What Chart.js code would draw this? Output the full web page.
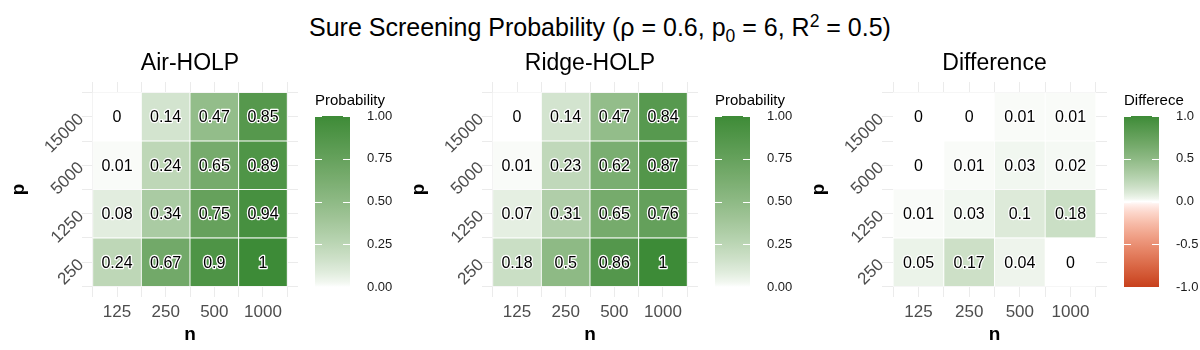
<!DOCTYPE html>
<html>
<head>
<meta charset="utf-8">
<script src="https://cdn.jsdelivr.net/npm/chart.js@4.4.1/dist/chart.umd.min.js"></script>
<style>
  body { margin: 0; background: #fff; width: 1200px; height: 350px; position: relative; overflow: hidden;
         font-family: "Liberation Sans", Arial, sans-serif; }
  canvas { position: absolute; top: 0; }
  #title { position: absolute; top: 12px; left: 0; width: 1200px; text-align: center;
           font-size: 25px; line-height: 30px; color: #000; }
  #title sub, #title sup { font-size: 70%; line-height: 0; }
</style>
</head>
<body>
<div id="title">Sure Screening Probability (ρ = 0.6, p<sub>0</sub> = 6, R<sup>2</sup> = 0.5)</div>
<canvas id="heat1" width="300" height="350" style="left:0px"></canvas>
<canvas id="leg1" width="100" height="350" style="left:300px"></canvas>
<canvas id="heat2" width="300" height="350" style="left:400px"></canvas>
<canvas id="leg2" width="100" height="350" style="left:700px"></canvas>
<canvas id="heat3" width="310" height="350" style="left:800px"></canvas>
<canvas id="leg3" width="100" height="350" style="left:1100px"></canvas>
<script>
// values, rows from bottom (p = 250) to top (p = 15000)
const nLabels = ['125', '250', '500', '1000'];
const pLabels = ['250', '1250', '5000', '15000'];

const airHolp = [
    [0.24, 0.67, 0.9, 1],
    [0.08, 0.34, 0.75, 0.94],
    [0.01, 0.24, 0.65, 0.89],
    [0, 0.14, 0.47, 0.85]
];
const ridgeHolp = [
    [0.18, 0.5, 0.86, 1],
    [0.07, 0.31, 0.65, 0.76],
    [0.01, 0.23, 0.62, 0.87],
    [0, 0.14, 0.47, 0.84]
];
const difference = [
    [0.05, 0.17, 0.04, 0],
    [0.01, 0.03, 0.1, 0.18],
    [0, 0.01, 0.03, 0.02],
    [0, 0, 0.01, 0.01]
];

const probTicks = [0, 0.25, 0.5, 0.75, 1];
const diffTicks = [-1, -0.5, 0, 0.5, 1];

const GREEN = '#3d8b37';
const RED = '#c8401c';
const GRID = '#ebebeb';
const FONT = '"Liberation Sans", Arial, sans-serif';

// colour ramps in Lab space
function hexToRgb(h) {
    return [1, 3, 5].map(i => parseInt(h.substr(i, 2), 16));
}
function toLab(hex) {
    const lin = hexToRgb(hex).map(c => {
        c /= 255;
        return c <= 0.04045 ? c / 12.92 : Math.pow((c + 0.055) / 1.055, 2.4);
    });
    const X = (0.4124 * lin[0] + 0.3576 * lin[1] + 0.1805 * lin[2]) / 0.95047;
    const Y = 0.2126 * lin[0] + 0.7152 * lin[1] + 0.0722 * lin[2];
    const Z = (0.0193 * lin[0] + 0.1192 * lin[1] + 0.9505 * lin[2]) / 1.08883;
    const f = t => t > 0.008856 ? Math.cbrt(t) : 7.787 * t + 16 / 116;
    return [116 * f(Y) - 16, 500 * (f(X) - f(Y)), 200 * (f(Y) - f(Z))];
}
function fromLab(lab) {
    const fy = (lab[0] + 16) / 116, fx = fy + lab[1] / 500, fz = fy - lab[2] / 200;
    const inv = t => t > 0.206893 ? t * t * t : (t - 16 / 116) / 7.787;
    const X = inv(fx) * 0.95047, Y = inv(fy), Z = inv(fz) * 1.08883;
    const lin = [
        3.2406 * X - 1.5372 * Y - 0.4986 * Z,
        -0.9689 * X + 1.8758 * Y + 0.0415 * Z,
        0.0557 * X - 0.2040 * Y + 1.0570 * Z
    ];
    const rgb = lin.map(c => {
        const v = c <= 0.0031308 ? 12.92 * c : 1.055 * Math.pow(c, 1 / 2.4) - 0.055;
        return Math.round(Math.max(0, Math.min(1, v)) * 255);
    });
    return 'rgb(' + rgb.join(',') + ')';
}
const labWhite = toLab('#ffffff');
const labGreen = toLab(GREEN);
const labRed = toLab(RED);
// the ramp in the picture darkens quickly near zero
function ramp(t) {
    return Math.pow(t, 0.75);
}
function mixLab(a, b, t) {
    return fromLab(a.map((v, i) => v + (b[i] - v) * ramp(t)));
}
function probColor(v) {
    return mixLab(labWhite, labGreen, v);
}
function diffColor(v) {
    return v >= 0 ? mixLab(labWhite, labGreen, v) : mixLab(labWhite, labRed, -v);
}

const halfSteps = [0.5, 1, 1.5, 2, 2.5, 3, 3.5, 4, 4.5];

// cell labels, rotated p labels, axis title p and panel title
const heatPlugin = {
    id: 'heatText',
    afterDatasetsDraw(chart) {
        const ctx = chart.ctx;
        ctx.save();
        ctx.font = '16px ' + FONT;
        ctx.textAlign = 'center';
        ctx.textBaseline = 'middle';
        ctx.lineJoin = 'round';
        chart.data.datasets.forEach((ds, di) => {
            chart.getDatasetMeta(di).data.forEach((bar, i) => {
                const txt = String(ds.data[i].v);
                const cy = (bar.y + bar.base) / 2;
                ctx.strokeStyle = '#fff';
                ctx.lineWidth = 2.5;
                ctx.strokeText(txt, bar.x, cy + 1);
                ctx.fillStyle = '#000';
                ctx.fillText(txt, bar.x, cy + 1);
            });
        });
        ctx.restore();
    },
    afterDraw(chart) {
        const ctx = chart.ctx;
        const area = chart.chartArea;
        const yScale = chart.scales.y;
        ctx.save();
        ctx.fillStyle = '#4d4d4d';
        ctx.font = '17px ' + FONT;
        ctx.textAlign = 'right';
        ctx.textBaseline = 'middle';
        pLabels.forEach((lab, r) => {
            ctx.save();
            ctx.translate(area.left - 1, yScale.getPixelForValue(r + 1));
            ctx.rotate(-Math.PI / 4);
            ctx.fillText(lab, 0, 0);
            ctx.restore();
        });
        ctx.fillStyle = '#000';
        ctx.font = 'bold 19px ' + FONT;
        ctx.textAlign = 'center';
        ctx.save();
        ctx.translate(19, (area.top + area.bottom) / 2);
        ctx.rotate(-Math.PI / 2);
        ctx.fillText('p', 0, 0);
        ctx.restore();
        ctx.font = '23px ' + FONT;
        ctx.fillText(chart.options.plugins.panelTitle, (area.left + area.right) / 2, 64);
        ctx.restore();
    }
};

function makeHeat(id, rows, colorFn, title, padRight) {
    const datasets = rows.map((row, r) => ({
        data: row.map((v, i) => ({ x: i + 1, y: [r + 0.5, r + 1.5], v: v })),
        backgroundColor: row.map(colorFn),
        borderColor: '#ffffff',
        borderWidth: 0.8,
        borderSkipped: false,
        grouped: false,
        categoryPercentage: 1,
        barPercentage: 1
    }));
    return new Chart(document.getElementById(id), {
        type: 'bar',
        data: { datasets: datasets },
        options: {
            responsive: false,
            animation: false,
            devicePixelRatio: 1,
            layout: { padding: { left: 82, right: padRight, top: 82, bottom: 0 } },
            plugins: { legend: { display: false }, tooltip: { enabled: false }, panelTitle: title },
            scales: {
                x: {
                    type: 'linear', min: 0.28, max: 4.72, offset: false,
                    afterBuildTicks: s => { s.ticks = [1, 2, 3, 4].map(v => ({ value: v })); },
                    afterFit: s => { s.height = 53; },
                    ticks: {
                        autoSkip: false, maxRotation: 0, padding: 5, color: '#4d4d4d',
                        font: { family: FONT, size: 17 },
                        callback: v => nLabels[v - 1] || ''
                    },
                    grid: { color: GRID, drawTicks: false, offset: false },
                    border: { display: false },
                    title: { display: true, text: 'n', color: '#000', padding: { top: 0, bottom: 4 },
                             font: { family: FONT, size: 19, weight: 'bold' } }
                },
                x2: {
                    type: 'linear', position: 'bottom', min: 0.28, max: 4.72, offset: false,
                    afterBuildTicks: s => { s.ticks = halfSteps.map(v => ({ value: v })); },
                    afterFit: s => { s.height = 0; },
                    ticks: { display: false },
                    grid: { color: GRID, drawTicks: false, offset: false },
                    border: { display: false }
                },
                y: {
                    type: 'linear', min: 0.28, max: 4.72,
                    afterBuildTicks: s => { s.ticks = halfSteps.map(v => ({ value: v })); },
                    ticks: { display: false },
                    grid: { color: GRID, drawTicks: false },
                    border: { display: false }
                }
            }
        },
        plugins: [heatPlugin]
    });
}

// colour bar legend: one floating bar filled with the ramp, ticks from its own scale
const legendPlugin = {
    id: 'legendBits',
    afterDatasetsDraw(chart) {
        const ctx = chart.ctx;
        const area = chart.chartArea;
        const yScale = chart.scales.y;
        ctx.save();
        ctx.strokeStyle = '#fff';
        ctx.lineWidth = 1;
        chart.options.plugins.barTicks.forEach(v => {
            const y = Math.round(yScale.getPixelForValue(v)) + 0.5;
            ctx.beginPath();
            ctx.moveTo(area.left, y); ctx.lineTo(area.left + 7, y);
            ctx.moveTo(area.right - 7, y); ctx.lineTo(area.right, y);
            ctx.stroke();
        });
        ctx.fillStyle = '#000';
        ctx.font = '15px ' + FONT;
        ctx.textAlign = 'left';
        ctx.textBaseline = 'middle';
        ctx.fillText(chart.options.plugins.legendTitle, area.left, 101);
        ctx.restore();
    }
};

function makeLegend(id, lo, hi, tickVals, digits, colorFn, title, padLeft, axisWidth) {
    return new Chart(document.getElementById(id), {
        type: 'bar',
        data: {
            labels: [''],
            datasets: [{
                data: [[lo, hi]],
                categoryPercentage: 1,
                barPercentage: 1,
                borderWidth: 0,
                backgroundColor: c => {
                    const area = c.chart.chartArea;
                    if (!area) return null;
                    const g = c.chart.ctx.createLinearGradient(0, area.bottom, 0, area.top);
                    for (let k = 0; k <= 60; k++) {
                        g.addColorStop(k / 60, colorFn(lo + (hi - lo) * k / 60));
                    }
                    return g;
                }
            }]
        },
        options: {
            responsive: false,
            animation: false,
            devicePixelRatio: 1,
            layout: { padding: { left: padLeft, right: 0, top: 116, bottom: 63 } },
            plugins: { legend: { display: false }, tooltip: { enabled: false },
                       legendTitle: title, barTicks: tickVals },
            scales: {
                x: { display: false },
                y: {
                    position: 'right', min: lo, max: hi,
                    afterBuildTicks: s => { s.ticks = tickVals.map(v => ({ value: v })); },
                    afterFit: s => { s.width = axisWidth; },
                    ticks: { padding: 9, color: '#1a1a1a', font: { family: FONT, size: 13 },
                             callback: v => v.toFixed(digits) },
                    grid: { display: false },
                    border: { display: false }
                }
            }
        },
        plugins: [legendPlugin]
    });
}

makeHeat('heat1', airHolp, probColor, 'Air-HOLP', 2);
makeHeat('heat2', ridgeHolp, probColor, 'Ridge-HOLP', 2);
makeHeat('heat3', difference, diffColor, 'Difference', 3);
makeLegend('leg1', 0, 1, probTicks, 2, probColor, 'Probability', 15, 50);
makeLegend('leg2', 0, 1, probTicks, 2, probColor, 'Probability', 15, 50);
makeLegend('leg3', -1, 1, diffTicks, 1, diffColor, 'Differece', 24, 41);
</script>
</body>
</html>
